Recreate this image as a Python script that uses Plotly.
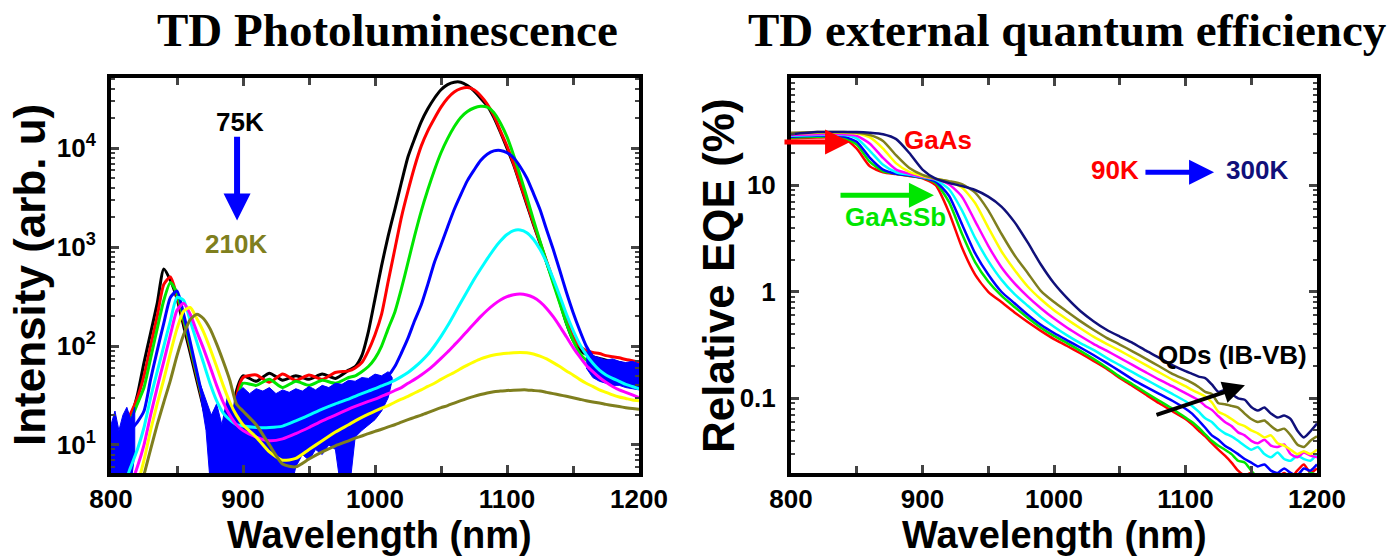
import math
import plotly.graph_objects as go

# ---------------- Left panel: TD photoluminescence ----------------
PL_W = ([800 + 5 * i for i in range(21)] + [910, 920, 930, 940, 950, 960, 970, 980]
        + [985 + 5 * i for i in range(44)])

PL_75K = [9, 12, 15, 19, 32, 68, 135, 270, 600, 460, 300, 160, 85, 45, 24, 13, 8, 5, 4, 35, 50,
          44, 53, 45, 50, 46, 52, 47, 57,
          62, 80, 140, 300, 650, 1300, 2400, 4500, 8200, 12500, 18500, 25000, 32000, 39000, 44000,
          46500, 46500, 43000, 38000, 32000, 27000, 20500, 14500, 10000, 6800, 4300, 2700, 1700,
          1100, 700, 450, 280, 170, 115, 92, 82, 78, 75, 72, 70, 68, 65, 63, 60]
PL_R = [10, 12, 16, 21, 30, 50, 100, 200, 420, 500, 320, 180, 95, 50, 26, 14, 8, 5, 4, 30, 48,
        51, 43, 52, 45, 51, 46, 54, 56,
        60, 68, 90, 130, 210, 450, 950, 2000, 3700, 6500, 10500, 15000, 20000, 26000, 32000,
        37000, 40000, 41000, 39000, 34000, 28000, 21500, 15000, 10500, 7000, 4400, 2800, 1750,
        1120, 720, 460, 290, 185, 125, 100, 90, 86, 84, 80, 78, 76, 73, 71, 68]
PL_G = [8, 11, 14, 18, 26, 38, 75, 150, 290, 440, 340, 190, 100, 52, 27, 15, 9, 6, 5, 25, 42,
        40, 46, 38, 44, 40, 45, 42, 48,
        50, 55, 62, 75, 100, 150, 220, 380, 700, 1300, 2300, 3800, 6000, 9000, 12500, 16500,
        20500, 23500, 25500, 26500, 26000, 23000, 18000, 13000, 8500, 5300, 3200, 1900, 1150,
        700, 430, 270, 170, 115, 85, 72, 66, 62, 60, 58, 56, 55, 54, 52]
PL_B = [5, 7, 10, 14, 17, 22, 46, 90, 170, 310, 360, 210, 110, 55, 28, 15, 12, 14, 15, 16, 17,
        18, 19, 20, 22, 24, 26, 28, 30,
        32, 34, 37, 40, 44, 50, 62, 85, 120, 180, 260, 420, 700, 1050, 1600, 2400, 3400, 4700,
        6000, 7500, 8700, 9400, 9500, 9000, 8000, 6500, 5000, 3500, 2400, 1500, 950, 580, 350,
        220, 145, 100, 78, 65, 58, 54, 51, 49, 47, 46]
PL_C = [3, 3, 4, 6, 9, 15, 30, 55, 100, 180, 310, 290, 180, 110, 68, 42, 28, 21, 18, 16, 15.5,
        15, 15, 15.5, 17.5, 20, 23, 26, 29,
        31, 33, 35, 37, 39.5, 42, 45, 49, 54, 61, 70, 82, 100, 125, 160, 210, 275, 360, 470, 600,
        760, 950, 1150, 1340, 1470, 1490, 1400, 1200, 950, 700, 480, 320, 210, 145, 105, 82, 67,
        57, 51, 47, 44, 41, 39, 37]
PL_M = [3, 3, 3, 4, 6, 10, 20, 38, 70, 130, 230, 270, 210, 140, 95, 62, 40, 27, 20, 16, 14,
        12, 11, 11.5, 13, 15, 17.5, 20, 23,
        24.5, 26, 27.5, 29, 31, 33, 35.5, 38, 42, 46, 51, 57, 65, 75, 87, 102, 120, 142, 168, 198,
        230, 262, 292, 315, 330, 335, 328, 310, 280, 240, 198, 158, 124, 97, 78, 64, 55, 48, 43,
        39, 36, 34, 32, 30]
PL_Y = [3, 3, 3, 3, 4, 7, 14, 26, 46, 85, 150, 225, 245, 190, 140, 95, 62, 40, 27, 20, 16,
        12, 8.5, 7, 7.3, 9, 11, 13.5, 16,
        17.5, 19, 20.5, 22, 23.5, 25, 27, 29, 31, 33.5, 36, 39, 42, 46, 50, 54, 59, 64, 69, 74,
        78, 81, 83, 84.5, 85.5, 86, 85.5, 83, 79, 74, 68, 62, 56, 51, 46, 42, 39, 36, 34, 32,
        30.5, 29.5, 28.5, 28]
PL_210K = [3, 3, 3, 3, 3, 5, 9, 16, 27, 45, 80, 130, 185, 210, 190, 150, 105, 70, 45, 26, 22,
           16, 10, 6.4, 6, 7.2, 8.5, 9.8, 11,
           11.7, 12.3, 13, 13.7, 14.4, 15.2, 16, 17, 18, 19, 20, 21.2, 22.5, 23.8, 25, 26.5, 28,
           29.5, 31, 32.3, 33.5, 34.5, 35, 35.5, 35.8, 36, 36, 35.5, 35, 34, 33, 32, 31, 30, 29,
           28, 27.2, 26.5, 25.7, 25, 24.4, 23.8, 23.3, 23]

# noisy blue detector bands (upper / lower envelopes)
NOISE_A_W = [800, 803, 806, 809, 812, 815, 818]
NOISE_A_HI = [16, 22, 14, 20, 24, 18, 24]
NOISE_A_LO = [3, 3, 3, 3, 3, 4, 8]
NOISE_B_W = [868, 872, 876, 880, 884, 888, 892, 896, 900, 905, 910, 915, 920, 925, 930, 935, 940,
             945, 950, 955, 960, 965, 970, 975, 980, 985, 990, 995, 1000, 1005, 1010, 1013]
NOISE_B_HI = [40, 28, 20, 26, 16, 30, 22, 34, 38, 33, 37, 35, 38, 33, 36, 34, 37, 35, 39, 36, 40,
              38, 42, 41, 45, 44, 48, 47, 52, 50, 55, 48]
NOISE_B_LO = [30, 14, 3, 3, 3, 3, 3, 3, 3, 3, 3, 3, 3, 3, 3, 3, 6, 8, 7, 9, 8, 10, 9, 3, 3, 12,
              14, 16, 18, 22, 30, 45]
NOISE_C_W = [1160, 1165, 1170, 1175, 1180, 1185, 1190, 1195, 1200]
NOISE_C_HI = [88, 80, 76, 72, 74, 70, 68, 70, 66]
NOISE_C_LO = [60, 48, 44, 42, 40, 40, 38, 37, 36]

# ---------------- Right panel: TD external quantum efficiency ----------------
EQE_W = [800, 820, 840, 850, 860, 870, 880, 890, 900, 910, 920, 930, 940, 950, 960, 970, 980,
         990, 1000, 1010, 1020, 1030, 1040, 1050, 1060, 1070, 1080, 1090, 1100, 1105, 1110, 1115,
         1120, 1125, 1130, 1135, 1140, 1145, 1150, 1155, 1160, 1165, 1170, 1175, 1180, 1185,
         1190, 1195, 1200]
EQE_90K = [27.5, 28, 27.5, 22, 15, 13.2, 12.7, 12.2, 11.6, 10.0, 5.6, 2.6, 1.45, 1.0, 0.80, 0.64,
           0.52, 0.43, 0.36, 0.31, 0.265, 0.225, 0.19, 0.155, 0.13, 0.108, 0.09, 0.076, 0.064,
           0.057, 0.05, 0.044, 0.038, 0.033, 0.029, 0.025, 0.021, 0.019, 0.02, 0.018, 0.017,
           0.016, 0.018, 0.02, 0.018, 0.021, 0.024, 0.02, 0.022]
EQE_G = [28, 28.5, 28, 24, 16.5, 13.5, 12.8, 12.3, 11.7, 10.5, 7.0, 3.5, 1.9, 1.25, 0.92, 0.72,
         0.57, 0.46, 0.385, 0.33, 0.28, 0.235, 0.195, 0.16, 0.135, 0.113, 0.095, 0.08, 0.066,
         0.06, 0.053, 0.046, 0.04, 0.036, 0.033, 0.03, 0.026, 0.025, 0.021, 0.018, 0.017, 0.019,
         0.017, 0.016, 0.019, 0.017, 0.018, 0.02, 0.019]
EQE_B = [28.5, 29, 28.5, 25.5, 18, 14, 12.8, 12.3, 11.8, 10.8, 8.0, 4.3, 2.3, 1.45, 1.0, 0.78,
         0.61, 0.49, 0.41, 0.35, 0.30, 0.255, 0.215, 0.18, 0.15, 0.128, 0.11, 0.095, 0.08, 0.072,
         0.062, 0.053, 0.045, 0.041, 0.036, 0.033, 0.03, 0.027, 0.025, 0.023, 0.024, 0.021,
         0.02, 0.022, 0.02, 0.019, 0.022, 0.021, 0.024]
EQE_C = [29, 29.5, 29.5, 27.5, 21, 15.5, 13.2, 12.5, 11.9, 11.2, 9.2, 5.8, 3.2, 1.95, 1.3, 0.95,
         0.74, 0.58, 0.47, 0.39, 0.33, 0.285, 0.24, 0.205, 0.175, 0.15, 0.128, 0.11, 0.094,
         0.085, 0.075, 0.065, 0.06, 0.052, 0.047, 0.044, 0.04, 0.036, 0.033, 0.035, 0.03, 0.028,
         0.031, 0.027, 0.026, 0.029, 0.027, 0.026, 0.03]
EQE_M = [29.5, 30, 30, 29, 24.5, 18, 14, 12.8, 12, 11.4, 10.2, 7.8, 4.6, 2.7, 1.7, 1.2, 0.9, 0.7,
         0.56, 0.46, 0.385, 0.325, 0.28, 0.24, 0.205, 0.175, 0.15, 0.13, 0.112, 0.104, 0.096,
         0.085, 0.078, 0.068, 0.06, 0.055, 0.048, 0.045, 0.04, 0.038, 0.041, 0.036, 0.035, 0.037,
         0.03, 0.028, 0.031, 0.029, 0.028]
EQE_Y = [30.5, 31, 31, 30.5, 28, 22, 16, 13.3, 12.2, 11.5, 10.8, 9.5, 6.8, 4.0, 2.4, 1.6, 1.12,
         0.85, 0.67, 0.55, 0.455, 0.38, 0.325, 0.28, 0.24, 0.205, 0.175, 0.15, 0.13, 0.12, 0.112,
         0.104, 0.092, 0.075, 0.07, 0.064, 0.058, 0.055, 0.05, 0.047, 0.043, 0.045, 0.038, 0.036,
         0.033, 0.03, 0.032, 0.03, 0.033]
EQE_O = [31, 31.5, 31.5, 31, 29.5, 26, 19, 14.5, 12.5, 11.5, 10.9, 10.2, 8.5, 5.8, 3.5, 2.2, 1.5,
         1.02, 0.80, 0.65, 0.53, 0.44, 0.37, 0.32, 0.275, 0.235, 0.2, 0.17, 0.15, 0.14, 0.128,
         0.115, 0.11, 0.09, 0.088, 0.085, 0.082, 0.072, 0.064, 0.06, 0.062, 0.055, 0.05, 0.052,
         0.045, 0.037, 0.035, 0.04, 0.044]
EQE_300K = [30, 31.5, 31.5, 31.5, 31, 30, 27, 20, 14, 11.5, 10.5, 9.8, 9.0, 7.8, 6.3, 4.5, 2.9,
            1.8, 1.2, 0.87, 0.66, 0.53, 0.44, 0.38, 0.33, 0.28, 0.24, 0.205, 0.18, 0.17, 0.16,
            0.155, 0.135, 0.115, 0.12, 0.11, 0.10, 0.097, 0.083, 0.077, 0.082, 0.072, 0.066,
            0.069, 0.064, 0.05, 0.043, 0.049, 0.058]

X_TICKS = [800, 900, 1000, 1100, 1200]
PL_TICKS = [10, 100, 1000, 10000]
PL_TICKTEXT = ['10<sup>1</sup>', '10<sup>2</sup>', '10<sup>3</sup>', '10<sup>4</sup>']
EQE_TICKS = [0.1, 1, 10]
EQE_TICKTEXT = ['0.1', '1', '10']

C_BLACK, C_RED, C_GREEN, C_BLUE = '#000000', '#ff0000', '#00e600', '#0000ff'
C_CYAN, C_MAG, C_YEL, C_OLIVE, C_NAVY = '#00ffff', '#ff00ff', '#ffff00', '#7f7f1e', '#10107a'

SANS = 'Liberation Sans, Arial, sans-serif'
SERIF = 'Liberation Serif, Times New Roman, serif'

W, H = 1398, 558
def px(x):
    return x / W
def py(y):
    return 1 - y / H

fig = go.Figure()

def band(xw, hi, lo, xa, ya):
    fig.add_trace(go.Scatter(x=xw + xw[::-1], y=hi + lo[::-1], fill='toself', fillcolor=C_BLUE,
                             line=dict(color=C_BLUE, width=1), mode='lines', xaxis=xa, yaxis=ya,
                             hoverinfo='skip', showlegend=False))

def curve(xw, yv, color, xa, ya, width=3):
    fig.add_trace(go.Scatter(x=xw, y=yv, mode='lines', line=dict(color=color, width=width,
                             shape='spline', smoothing=0.6), xaxis=xa, yaxis=ya, showlegend=False))

curve(PL_W, PL_75K, C_BLACK, 'x', 'y')
curve(PL_W, PL_R, C_RED, 'x', 'y')
curve(PL_W, PL_G, C_GREEN, 'x', 'y')
band(NOISE_A_W, NOISE_A_HI, NOISE_A_LO, 'x', 'y')
band(NOISE_B_W, NOISE_B_HI, NOISE_B_LO, 'x', 'y')
band(NOISE_C_W, NOISE_C_HI, NOISE_C_LO, 'x', 'y')
curve(PL_W, PL_B, C_BLUE, 'x', 'y')
curve(PL_W, PL_C, C_CYAN, 'x', 'y')
curve(PL_W, PL_M, C_MAG, 'x', 'y')
curve(PL_W, PL_Y, C_YEL, 'x', 'y')
curve(PL_W, PL_210K, C_OLIVE, 'x', 'y')

for yv, col in [(EQE_90K, C_RED), (EQE_G, C_GREEN), (EQE_B, C_BLUE), (EQE_C, C_CYAN),
                (EQE_M, C_MAG), (EQE_Y, C_YEL), (EQE_O, C_OLIVE), (EQE_300K, C_NAVY)]:
    curve(EQE_W, yv, col, 'x2', 'y2', width=2.5)

tickfont = dict(family=SANS, size=26, color='black', weight='bold')
common_x = dict(range=[800, 1200], tickvals=X_TICKS, ticks='inside', ticklen=8, tickwidth=3,
                showline=True, linewidth=4, linecolor='black', mirror='allticks',
                showgrid=False, zeroline=False, tickfont=tickfont, ticklabelstandoff=0,
                automargin=False,
                minor=dict(dtick=50, ticks='inside', ticklen=7, tickwidth=3, showgrid=False))
common_y = dict(type='log', ticks='inside', ticklen=8, tickwidth=3, showline=True, linewidth=4,
                linecolor='black', mirror='allticks', showgrid=False, zeroline=False,
                tickfont=tickfont, ticklabelstandoff=6, automargin=False,
                minor=dict(dtick='D1', ticks='inside', ticklen=4, tickwidth=2, showgrid=False))

fig.update_layout(
    width=W, height=H, autosize=False, margin=dict(l=0, r=0, t=0, b=0, pad=0),
    paper_bgcolor='white', plot_bgcolor='white', showlegend=False,
    xaxis=dict(domain=[px(111), px(639)], anchor='y', **common_x),
    yaxis=dict(domain=[py(473), py(78)], anchor='x', range=[0.716, 4.71], tickvals=PL_TICKS,
               ticktext=PL_TICKTEXT, **common_y),
    xaxis2=dict(domain=[px(791), px(1317)], anchor='y2', **common_x),
    yaxis2=dict(domain=[py(473), py(78)], anchor='x2', range=[-1.70, 2.005], tickvals=EQE_TICKS,
                ticktext=EQE_TICKTEXT, **common_y),
)

ann = []
def text(x, y, s, size, color, xref='paper', yref='paper', family=SANS, angle=0):
    ann.append(dict(x=x, y=y, xref=xref, yref=yref, text=s, showarrow=False, textangle=angle,
                    font=dict(family=family, size=size, color=color, weight='bold'),
                    xanchor='center', yanchor='middle'))
def arrow(x0, y0, x1, y1, color, xa, ya, width=5, size=1.0):
    ann.append(dict(x=x1, y=y1, ax=x0, ay=y0, xref=xa, yref=ya, axref=xa, ayref=ya, text='',
                    showarrow=True, arrowhead=2, arrowsize=size, arrowwidth=width,
                    arrowcolor=color, standoff=0, startstandoff=0))

# titles
text(px(387), py(30), 'TD Photoluminescence', 47, 'black', family=SERIF)
text(px(1067), py(30), 'TD external quantum efficiency', 47, 'black', family=SERIF)
# axis titles
text(px(380), py(535), 'Wavelength (nm)', 38, 'black')
text(px(1054), py(535), 'Wavelength (nm)', 38, 'black')
text(px(30), py(275), 'Intensity (arb. u)', 44, 'black', angle=-90)
text(px(718), py(276), 'Relative EQE (%)', 44, 'black', angle=-90)

# left annotations
text(897.7, 4.263, '75K', 26, C_BLACK, 'x', 'y')
arrow(895.5, 4.13, 895.5, 3.27, C_BLUE, 'x', 'y', width=6, size=0.9)
text(894.7, 3.035, '210K', 26, C_OLIVE, 'x', 'y')

# right annotations
text(911.8, 1.42, 'GaAs', 26, C_RED, 'x2', 'y2')
arrow(793.9, 1.404, 844.9, 1.404, C_RED, 'x2', 'y2', width=5, size=1.0)
arrow(836.5, 0.906, 908.7, 0.906, C_GREEN, 'x2', 'y2', width=5, size=1.0)
text(879.8, 0.70, 'GaAsSb', 26, C_GREEN, 'x2', 'y2')
text(1046.4, 1.14, '90K', 26, C_RED, 'x2', 'y2')
arrow(1068.4, 1.122, 1121.7, 1.122, C_BLUE, 'x2', 'y2', width=5, size=1.0)
text(1154.4, 1.14, '300K', 26, C_NAVY, 'x2', 'y2')
text(1135.4, -0.596, 'QDs (IB-VB)', 26, C_BLACK, 'x2', 'y2')
arrow(1076.8, -1.159, 1145.2, -0.878, C_BLACK, 'x2', 'y2', width=4, size=1.1)

fig.update_layout(annotations=ann)
fig.write_html('out.html', config=dict(responsive=False))
